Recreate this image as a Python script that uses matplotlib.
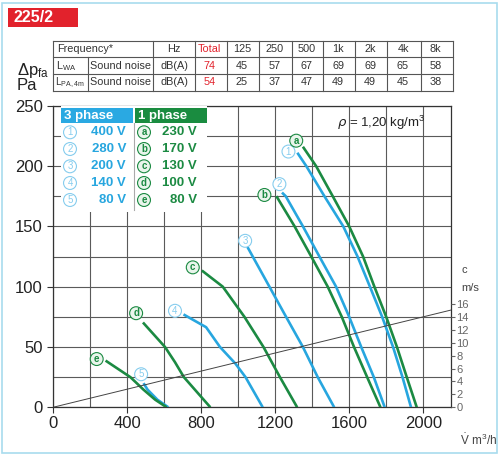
import matplotlib.pyplot as plt
from matplotlib.patches import Rectangle

plt.rcParams['font.family'] = ['Liberation Sans Narrow', 'Liberation Sans', 'DejaVu Sans']

BLUE = '#27a6df'
BLUE_LIGHT = '#86cdee'
GREEN = '#1b8a42'
RED = '#e2222c'

# fan curves, V in m3/h, dp in Pa
v_1 = [1320, 1368, 1466, 1568, 1645, 1712, 1778, 1837, 1888, 1934]
p_1 = [211, 200, 175, 150, 125, 100, 75, 50, 25, 0]
v_2 = [1237, 1257, 1350, 1439, 1529, 1600, 1665, 1733, 1792]
p_2 = [178, 175, 150, 125, 100, 75, 50, 25, 0]
v_3 = [1050, 1169, 1259, 1350, 1430, 1519]
p_3 = [133, 100, 75, 50, 25, 0]
v_4 = [705, 728, 827, 902, 985, 1040, 1133]
p_4 = [77, 75, 66.4, 50, 36.3, 25, 0]
v_5 = [489, 511, 564, 623]
p_5 = [20, 14.6, 6.3, 0]

v_a = [1350, 1421, 1511, 1600, 1675, 1736, 1800, 1858, 1911, 1965]
p_a = [216, 200, 175, 150, 125, 100, 75, 50, 25, 0]
v_b = [1207, 1305, 1395, 1484, 1560, 1626, 1697, 1769]
p_b = [175, 150, 125, 100, 75, 50, 25, 0]
v_c = [804, 917, 1034, 1137, 1226, 1319]
p_c = [113.4, 100, 75, 50, 25, 0]
v_d = [486, 605, 659, 707, 850]
p_d = [70.3, 50, 37.4, 25, 0]
v_e = [284, 418, 489, 552, 614]
p_e = [38.7, 25, 14.6, 6.3, 0]

three_phase = [('1', '400 V', v_1, p_1, 1272, 212),
               ('2', '280 V', v_2, p_2, 1223, 185),
               ('3', '200 V', v_3, p_3, 1038, 138),
               ('4', '140 V', v_4, p_4, 659, 80),
               ('5', '80 V', v_5, p_5, 476, 27.4)]
one_phase = [('a', '230 V', v_a, p_a, 1314, 221),
             ('b', '170 V', v_b, p_b, 1142, 176),
             ('c', '130 V', v_c, p_c, 755, 116),
             ('d', '100 V', v_d, p_d, 449, 78),
             ('e', '80 V', v_e, p_e, 236, 40)]

# duct velocity line
duct_v = [0, 2150]
duct_c = [0, 15.05]

# sound table
freq_labels = ['Total', '125', '250', '500', '1k', '2k', '4k', '8k']
lwa = [74, 45, 57, 67, 69, 69, 65, 58]
lpa = [54, 25, 37, 47, 49, 49, 45, 38]

W, H = 500, 457
fig = plt.figure(figsize=(W / 100, H / 100), dpi=100)


def fx(px):
    return px / W


def fy(py):
    return 1 - py / H


# frame and title box
fig.patches.append(Rectangle((fx(2), fy(453)), fx(495), 450 / H, transform=fig.transFigure,
                             fill=False, ec='#a8dcee', lw=1.2))
fig.patches.append(Rectangle((fx(8), fy(27)), fx(70), 19 / H, transform=fig.transFigure,
                             fc=RED, ec='none'))
fig.text(fx(13), fy(17.5), '225/2', color='white', fontsize=11.5, fontweight='bold', va='center')

# sound table
col_x = [52.7, 88.3, 153.3, 195, 226.7, 259.3, 291.7, 323.3, 355, 387.3, 420.7, 452.7]
row_y = [40.7, 57.3, 74, 90.7]
lc = '#555555'
for y in row_y:
    fig.add_artist(plt.Line2D([fx(col_x[0]), fx(col_x[-1])], [fy(y), fy(y)], color=lc, lw=0.8))
for j, x in enumerate(col_x):
    y0 = row_y[1] if j == 1 else row_y[0]
    fig.add_artist(plt.Line2D([fx(x), fx(x)], [fy(y0), fy(row_y[-1])], color=lc, lw=0.8))

tfs = 7.8
tc = '#333333'
ym = [(row_y[k] + row_y[k + 1]) / 2 for k in range(3)]
fig.text(fx(57), fy(ym[0]), 'Frequency*', fontsize=tfs, va='center', color=tc)
fig.text(fx(174), fy(ym[0]), 'Hz', fontsize=tfs, va='center', ha='center', color=tc)
fig.text(fx(56), fy(ym[1]), r'$\mathregular{L_{WA}}$', fontsize=tfs, va='center', color=tc)
fig.text(fx(55), fy(ym[2]), r'$\mathregular{L_{PA,4m}}$', fontsize=7.2, va='center', color=tc)
for k in (1, 2):
    fig.text(fx(121), fy(ym[k]), 'Sound noise', fontsize=tfs, va='center', ha='center', color=tc)
    fig.text(fx(174), fy(ym[k]), 'dB(A)', fontsize=tfs, va='center', ha='center', color=tc)
for j, lab in enumerate(freq_labels):
    cx = (col_x[j + 3] + col_x[j + 4]) / 2 - 1
    col = RED if j == 0 else tc
    fig.text(fx(cx), fy(ym[0]), lab, fontsize=tfs, va='center', ha='center', color=col)
    fig.text(fx(cx), fy(ym[1]), str(lwa[j]), fontsize=tfs, va='center', ha='center', color=col)
    fig.text(fx(cx), fy(ym[2]), str(lpa[j]), fontsize=tfs, va='center', ha='center', color=col)

# axis labels
fig.text(fx(17), fy(70), r'$\mathregular{\Delta p_{fa}}$', fontsize=12, va='center', color='#222222')
fig.text(fx(17), fy(86), 'Pa', fontsize=12, va='center', color='#222222')
fig.text(fx(460), fy(440), r'$\mathregular{\dot{V}\ m^3/h}$', fontsize=8.5, va='center', color='#444444')
fig.text(fx(461), fy(270), 'c', fontsize=8, va='center', color='#444444')
fig.text(fx(461), fy(288), 'm/s', fontsize=8, va='center', color='#444444')

# main axes
ax = fig.add_axes([fx(53), fy(407.3), fx(451 - 53), (407.3 - 105.7) / H])
ax.set_xlim(0, 2150)
ax.set_ylim(0, 250)
ax.set_xticks([0, 400, 800, 1200, 1600, 2000])
ax.set_xticks(range(0, 2150, 200), minor=True)
ax.set_yticks(range(0, 251, 50))
ax.set_yticks(range(0, 251, 25), minor=True)
ax.grid(True, which='both', color='#5a5a5a', lw=0.8)
ax.tick_params(labelsize=12, length=4, color='#333333', labelcolor='#222222')
ax.tick_params(which='minor', length=0)
ax.tick_params(axis='x', direction='out', pad=2)
for s in ax.spines.values():
    s.set_color('#333333')
    s.set_linewidth(0.9)

for num, volt, v, p, lx, ly in three_phase:
    ax.plot(v, p, color=BLUE, lw=1.9, zorder=4, solid_capstyle='butt', solid_joinstyle='round')
    ax.text(lx, ly, num, fontsize=7, color=BLUE_LIGHT, ha='center', va='center', zorder=6,
            bbox=dict(boxstyle='circle,pad=0.15', fc='white', ec=BLUE_LIGHT, lw=0.8))
for let, volt, v, p, lx, ly in one_phase:
    ax.plot(v, p, color=GREEN, lw=1.9, zorder=4, solid_capstyle='butt', solid_joinstyle='round')
    ax.text(lx, ly, let, fontsize=7, color=GREEN, ha='center', va='center', zorder=6,
            fontweight='bold',
            bbox=dict(boxstyle='circle,pad=0.15', fc='#eaf5ec', ec=GREEN, lw=0.8))

ax.text(0.935, 0.943, r'$\rho$ = 1,20 kg/m$^\mathregular{3}$', transform=ax.transAxes, fontsize=9.5,
        ha='right', va='center', color='#222222', zorder=6)

# velocity axis
ax2 = ax.twinx()
ax2.set_ylim(0, 250 * 16 / 85.7)
ax2.set_yticks(range(0, 17, 2))
ax2.tick_params(labelsize=8, length=3, color='#666666', labelcolor='#666666', pad=1)
ax2.plot(duct_v, duct_c, color='#444444', lw=0.7, zorder=3)
for s in ax2.spines.values():
    s.set_visible(False)

# voltage legend box
leg = fig.add_axes([fx(60.7), fy(212), fx(206.7 - 60.7), (212 - 105.7) / H])
leg.set_xlim(60.7, 206.7)
leg.set_ylim(212, 105.7)
leg.axis('off')
leg.add_patch(Rectangle((60.7, 105.7), 146, 106.3, fc='white', ec='none'))
leg.add_patch(Rectangle((60.7, 108), 72, 15, fc='#2aa9e2', ec='none'))
leg.add_patch(Rectangle((135, 108), 71.7, 15, fc='#1a8c40', ec='none'))
leg.plot([134, 134], [123, 210], color='#aaaaaa', lw=0.8)
leg.text(64, 115.5, '3 phase', color='white', fontsize=9.5, fontweight='bold', va='center')
leg.text(138, 115.5, '1 phase', color='white', fontsize=9.5, fontweight='bold', va='center')
row_py = [132.3, 149, 166.3, 183, 200]
for k in range(5):
    num, volt = three_phase[k][:2]
    let, volt1 = one_phase[k][:2]
    leg.text(70, row_py[k], num, fontsize=7, color=BLUE_LIGHT, ha='center', va='center',
             bbox=dict(boxstyle='circle,pad=0.15', fc='white', ec=BLUE_LIGHT, lw=0.8))
    leg.text(126, row_py[k], volt, fontsize=9.5, color=BLUE, fontweight='bold', ha='right', va='center')
    leg.text(144, row_py[k], let, fontsize=7, color=GREEN, ha='center', va='center', fontweight='bold',
             bbox=dict(boxstyle='circle,pad=0.15', fc='#eaf5ec', ec=GREEN, lw=0.8))
    leg.text(197, row_py[k], volt1, fontsize=9.5, color=GREEN, fontweight='bold', ha='right', va='center')

fig.savefig('out.png', dpi=100)
